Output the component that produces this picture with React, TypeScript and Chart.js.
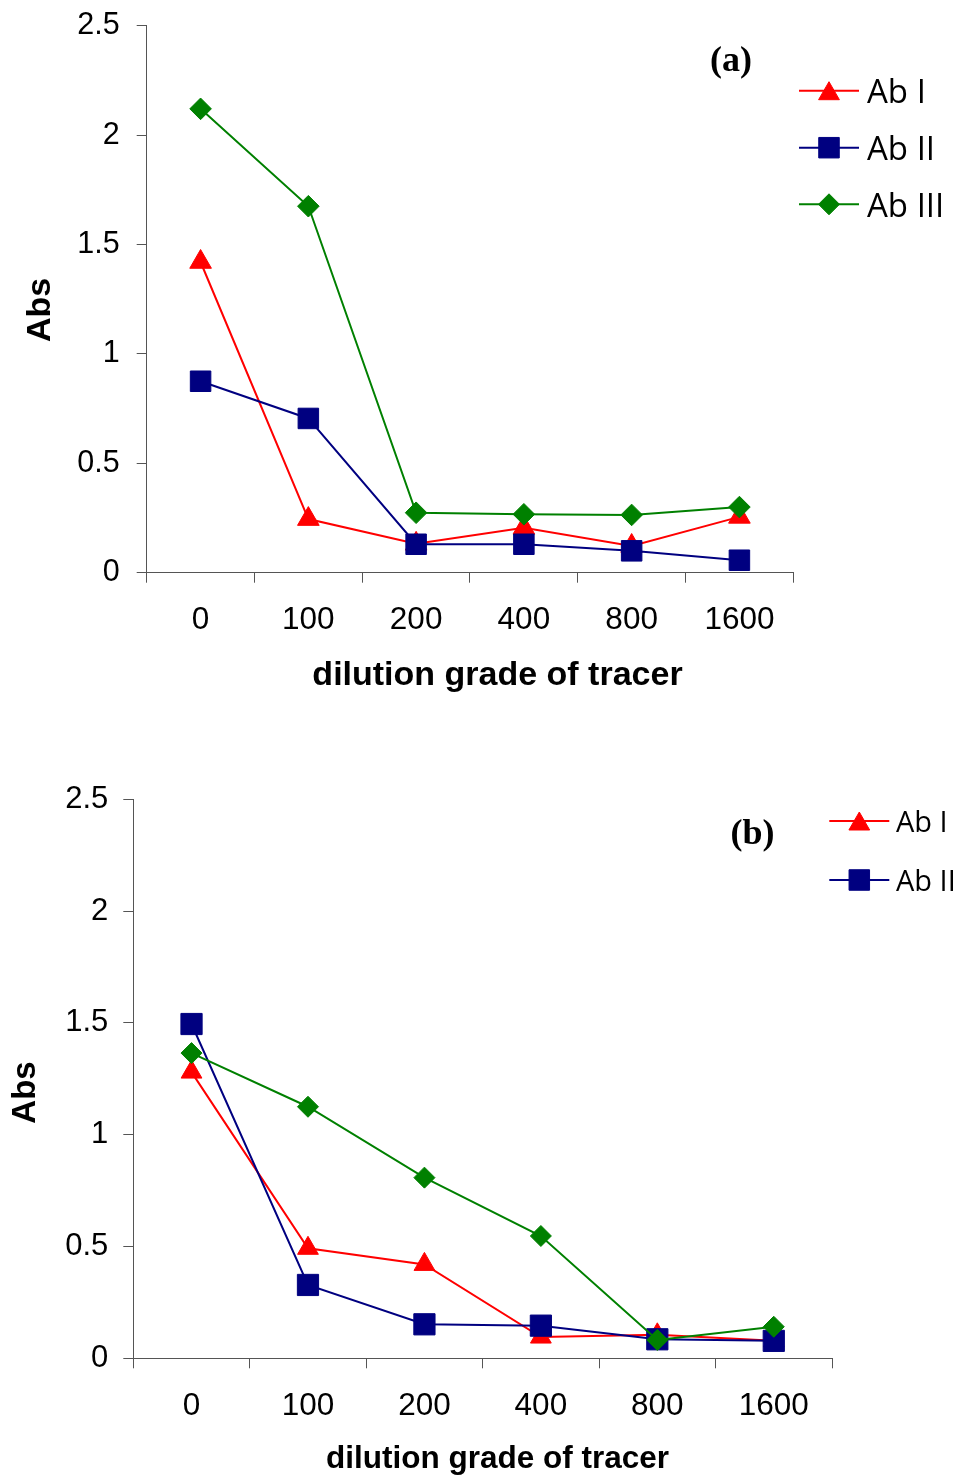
import React, { useEffect, useRef } from 'react';
import { Chart, registerables } from 'chart.js';

Chart.register(...registerables);

// ---------- data ----------
const categories = ['0', '100', '200', '400', '800', '1600'];
const yTickValues = [0, 0.5, 1, 1.5, 2, 2.5];
const yTickLabels = ['0', '0.5', '1', '1.5', '2', '2.5'];
const seriesNames = ['Ab I', 'Ab II', 'Ab III'];

const panelA_AbI = [1.42, 0.245, 0.132, 0.205, 0.122, 0.255];
const panelA_AbII = [0.875, 0.705, 0.13, 0.13, 0.1, 0.057];
const panelA_AbIII = [2.12, 1.675, 0.274, 0.267, 0.264, 0.3];

const panelB_AbI = [1.28, 0.492, 0.42, 0.095, 0.105, 0.078];
const panelB_AbII = [1.495, 0.328, 0.152, 0.146, 0.085, 0.078];
const panelB_AbIII = [1.365, 1.125, 0.808, 0.547, 0.082, 0.141];

const panelTags = ['(a)', '(b)'];
const xTitleText = 'dilution grade of tracer';
const yTitleText = 'Abs';

// ---------- styles ----------
const W = 956;
const SANS = "'Liberation Sans', Arial, sans-serif";
const LEGEND_FONT = "'Open Sans', 'Noto Sans', sans-serif";
const SERIF = "'Liberation Serif', 'Times New Roman', serif";
const AXIS_COLOR = '#555555';
const seriesStyles = [
  { color: '#FF0000', pointStyle: 'triangle', order: 3 },
  { color: '#000080', pointStyle: 'rect', order: 2 },
  { color: '#008000', pointStyle: 'rectRot', order: 1 },
];

type PanelCfg = {
  top: number;
  height: number;
  plot: { left: number; top: number; right: number; bottom: number };
  data: number[][];
  radii: number[];
  legendCount: number;
  legend: { x: number; rows: number[]; size: number; baseOff: number; textX: number; radii: number[] };
  tag: { text: string; x: number; y: number; size: number };
  yTitle: { x: number; y: number; size: number };
  xTitle: { x: number; y: number; size: number };
  yPad: number;
  xPad: number;
  yTickSize: number;
  xTickSize: number;
};

const panels: PanelCfg[] = [
  {
    top: 0,
    height: 740,
    plot: { left: 146.7, top: 25.7, right: 793.3, bottom: 572.7 },
    data: [panelA_AbI, panelA_AbII, panelA_AbIII],
    radii: [12.5, 14.5, 10.8],
    legendCount: 3,
    legend: { x: 799, rows: [90.7, 147.7, 204.3], size: 33, baseOff: 12.3, textX: 867, radii: [12, 14.5, 10.5] },
    tag: { text: panelTags[0], x: 731, y: 70.5, size: 36 },
    yTitle: { x: 50, y: 310, size: 34 },
    xTitle: { x: 497.5, y: 685, size: 34 },
    yPad: 17,
    xPad: 19,
    yTickSize: 30.5,
    xTickSize: 31.5,
  },
  {
    top: 740,
    height: 735,
    plot: { left: 133.3, top: 799.3, right: 832, bottom: 1358.3 },
    data: [panelB_AbI, panelB_AbII, panelB_AbIII],
    radii: [12, 15, 10.5],
    legendCount: 2,
    legend: { x: 829.3, rows: [821, 880], size: 29, baseOff: 10.5, textX: 896, radii: [12, 14.5, 10.5] },
    tag: { text: panelTags[1], x: 752.5, y: 844, size: 36 },
    yTitle: { x: 35, y: 1092.5, size: 33 },
    xTitle: { x: 497.5, y: 1468, size: 31.5 },
    yPad: 15,
    xPad: 19.5,
    yTickSize: 31,
    xTickSize: 31.5,
  },
];

function drawMarker(ctx: CanvasRenderingContext2D, style: string, x: number, y: number, r: number, color: string) {
  ctx.save();
  ctx.fillStyle = color;
  ctx.strokeStyle = color;
  ctx.lineWidth = 1;
  ctx.beginPath();
  if (style === 'triangle') {
    const cy = y + r / 4; // center bbox on line
    ctx.moveTo(x, cy - r);
    ctx.lineTo(x + r * 0.866, cy + r / 2);
    ctx.lineTo(x - r * 0.866, cy + r / 2);
  } else if (style === 'rect') {
    const s = Math.SQRT1_2 * r;
    ctx.rect(x - s, y - s, 2 * s, 2 * s);
  } else {
    ctx.moveTo(x, y - r);
    ctx.lineTo(x + r, y);
    ctx.lineTo(x, y + r);
    ctx.lineTo(x - r, y);
  }
  ctx.closePath();
  ctx.fill();
  ctx.stroke();
  ctx.restore();
}

function makeDecor(cfg: PanelCfg) {
  return {
    id: 'decor',
    afterDraw(chart: any) {
      const ctx: CanvasRenderingContext2D = chart.ctx;
      const oy = cfg.top;
      ctx.save();
      // legend
      const L = cfg.legend;
      for (let i = 0; i < cfg.legendCount; i++) {
        const st = seriesStyles[i];
        const y = L.rows[i] - oy;
        ctx.strokeStyle = st.color;
        ctx.lineWidth = 2;
        ctx.beginPath();
        ctx.moveTo(L.x, y);
        ctx.lineTo(L.x + 60, y);
        ctx.stroke();
        drawMarker(ctx, st.pointStyle, L.x + 30, y, L.radii[i], st.color);
        ctx.fillStyle = '#000';
        ctx.font = `${L.size}px ${LEGEND_FONT}`;
        ctx.textAlign = 'left';
        ctx.textBaseline = 'alphabetic';
        ctx.fillText(seriesNames[i], L.textX, y + L.baseOff);
      }
      // panel tag
      ctx.fillStyle = '#000';
      ctx.font = `bold ${cfg.tag.size}px ${SERIF}`;
      ctx.textAlign = 'center';
      ctx.textBaseline = 'alphabetic';
      ctx.fillText(cfg.tag.text, cfg.tag.x, cfg.tag.y - oy);
      // x title
      ctx.font = `bold ${cfg.xTitle.size}px ${SANS}`;
      ctx.fillText(xTitleText, cfg.xTitle.x, cfg.xTitle.y - oy);
      // y title
      ctx.save();
      ctx.translate(cfg.yTitle.x, cfg.yTitle.y - oy);
      ctx.rotate(-Math.PI / 2);
      ctx.font = `bold ${cfg.yTitle.size}px ${SANS}`;
      ctx.textAlign = 'center';
      ctx.textBaseline = 'alphabetic';
      ctx.fillText(yTitleText, 0, 0);
      ctx.restore();
      ctx.restore();
    },
  };
}

function Panel({ cfg }: { cfg: PanelCfg }) {
  const ref = useRef<HTMLCanvasElement | null>(null);
  useEffect(() => {
    if (!ref.current) return;
    const H = cfg.height;
    const plotTop = cfg.plot.top - cfg.top;
    const plotBottom = cfg.plot.bottom - cfg.top;
    const gridOpts = {
      display: true,
      drawOnChartArea: false,
      drawTicks: true,
      tickLength: 10,
      color: AXIS_COLOR,
      lineWidth: 1,
    };
    const chart = new Chart(ref.current, {
      type: 'line',
      data: {
        labels: categories,
        datasets: cfg.data.map((d, i) => ({
          label: seriesNames[i],
          data: d,
          borderColor: seriesStyles[i].color,
          backgroundColor: seriesStyles[i].color,
          pointBackgroundColor: seriesStyles[i].color,
          pointBorderColor: seriesStyles[i].color,
          pointStyle: seriesStyles[i].pointStyle as any,
          pointRadius: cfg.radii[i],
          pointHoverRadius: cfg.radii[i],
          pointBorderWidth: 1,
          borderWidth: 2,
          tension: 0,
          order: seriesStyles[i].order,
          clip: false as any,
        })),
      },
      options: {
        responsive: false,
        animation: false,
        devicePixelRatio: 1,
        events: [],
        layout: { autoPadding: false, padding: { left: 0, top: plotTop, right: W - cfg.plot.right, bottom: 0 } },
        plugins: {
          legend: { display: false },
          tooltip: { enabled: false },
          title: { display: false },
        },
        scales: {
          x: {
            type: 'category',
            offset: true,
            grid: { ...gridOpts, offset: true },
            border: { display: true, color: AXIS_COLOR, width: 1 },
            ticks: {
              font: { family: SANS, size: cfg.xTickSize },
              color: '#000',
              padding: cfg.xPad,
              maxRotation: 0,
              minRotation: 0,
              autoSkip: false,
            },
            afterFit: (s: any) => {
              s.height = H - plotBottom;
              s.paddingLeft = 0;
              s.paddingRight = 0;
            },
          },
          y: {
            min: 0,
            max: 2.5,
            grid: gridOpts,
            border: { display: true, color: AXIS_COLOR, width: 1 },
            ticks: {
              font: { family: SANS, size: cfg.yTickSize },
              color: '#000',
              padding: cfg.yPad,
              callback: (v: any) => {
                const idx = yTickValues.indexOf(Number(v));
                return idx >= 0 ? yTickLabels[idx] : String(v);
              },
            },
            afterBuildTicks: (s: any) => {
              s.ticks = yTickValues.map((v) => ({ value: v }));
            },
            afterFit: (s: any) => {
              s.width = cfg.plot.left;
              s.paddingTop = 0;
              s.paddingBottom = 0;
            },
          },
        },
      } as any,
      plugins: [makeDecor(cfg)],
    });
    return () => chart.destroy();
  }, [cfg]);
  return (
    <canvas
      ref={ref}
      width={W}
      height={cfg.height}
      style={{ position: 'absolute', left: 0, top: cfg.top, width: W, height: cfg.height, display: 'block' }}
    />
  );
}

export default function App() {
  return (
    <div style={{ position: 'absolute', left: 0, top: 0, width: W, height: 1475, background: '#fff', overflow: 'hidden' }}>
      {panels.map((p, i) => (
        <Panel key={i} cfg={p} />
      ))}
    </div>
  );
}
